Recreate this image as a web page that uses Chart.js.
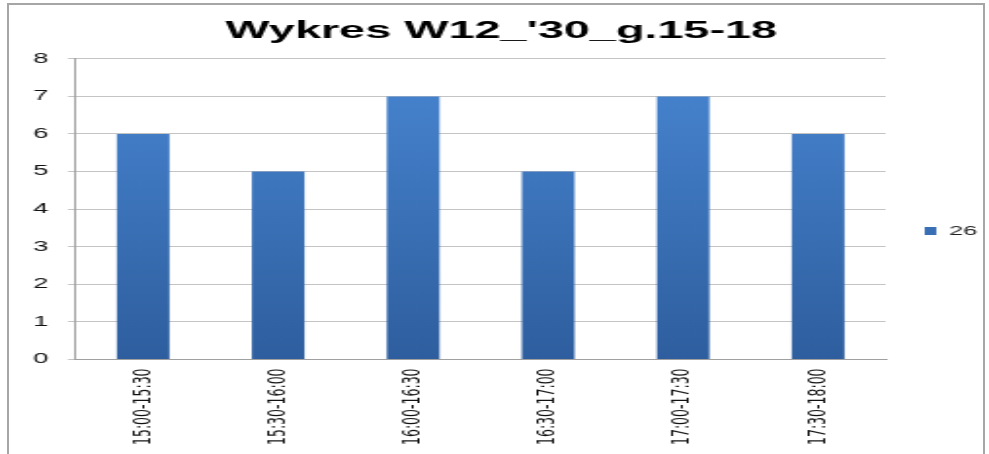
<!DOCTYPE html>
<html>
<head>
<meta charset="utf-8">
<script src="https://cdn.jsdelivr.net/npm/chart.js@4"></script>
<style>
  body { margin: 0; background: #fff; overflow: hidden; }
  #page { position: relative; width: 989px; height: 454px; overflow: hidden; }
  #frame { position: absolute; left: 7px; top: 3px; width: 978px; height: 470px; border: 2px solid #a6a6a6; box-sizing: border-box; }
  /* the source picture is stretched sideways, so the chart is drawn narrow and widened */
  #stretch { position: absolute; left: 0; top: 0; width: 507px; height: 454px; transform: scaleX(1.9507); transform-origin: 0 0; }
</style>
</head>
<body>
<div id="page">
  <div id="frame"></div>
  <div id="stretch"><canvas id="chart" width="507" height="454"></canvas></div>
</div>
<script>
// chart data
const titleText = "Wykres W12_'30_g.15-18";
const categories = ["15:00-15:30", "15:30-16:00", "16:00-16:30", "16:30-17:00", "17:00-17:30", "17:30-18:00"];
const seriesName = "26";
const seriesValues = [6, 5, 7, 5, 7, 6];
const yTicks = [0, 1, 2, 3, 4, 5, 6, 7, 8];

function barGradient(context) {
  const chart = context.chart;
  const area = chart.chartArea;
  if (!area) return "#3f78c0";
  const g = chart.ctx.createLinearGradient(0, area.top, 0, area.bottom);
  g.addColorStop(0, "#4886d2");
  g.addColorStop(1, "#2e5e9e");
  return g;
}

document.addEventListener("DOMContentLoaded", function () {
  const ctx = document.getElementById("chart").getContext("2d");

  new Chart(ctx, {
    type: "bar",
    data: {
      labels: categories,
      datasets: [
        {
          label: seriesName,
          data: seriesValues,
          backgroundColor: barGradient,
          borderWidth: 0,
          categoryPercentage: 1,
          barPercentage: 0.39,
        },
      ],
    },
    options: {
      responsive: false,
      animation: false,
      layout: { padding: { left: 7, right: 0, top: 8, bottom: 0 } },
      plugins: {
        title: {
          display: true,
          text: titleText,
          color: "#000",
          font: { family: "Liberation Sans, Arial", size: 24, weight: "bold" },
          padding: { top: 9, bottom: 13 },
        },
        legend: {
          position: "right",
          maxWidth: 53,
          labels: {
            boxWidth: 6,
            boxHeight: 8,
            padding: 20,
            color: "#222",
            font: { family: "Liberation Sans, Arial", size: 13 },
          },
        },
        tooltip: { enabled: false },
      },
      scales: {
        x: {
          grid: { display: false, drawTicks: false },
          border: { color: "#a0a0a0", width: 1 },
          ticks: {
            minRotation: 90,
            maxRotation: 90,
            padding: 9,
            color: "#111",
            font: { family: "DejaVu Sans", size: 12.5 },
          },
        },
        y: {
          min: 0,
          max: 8,
          afterBuildTicks: function (axis) {
            axis.ticks = yTicks.map(function (v) { return { value: v }; });
          },
          grid: { color: "#c4c4c4", lineWidth: 1, tickLength: 4 },
          border: { color: "#a0a0a0", width: 1 },
          ticks: {
            padding: 10,
            color: "#111",
            font: { family: "Liberation Sans, Arial", size: 14 },
          },
        },
      },
    },
  });
});
</script>
</body>
</html>
